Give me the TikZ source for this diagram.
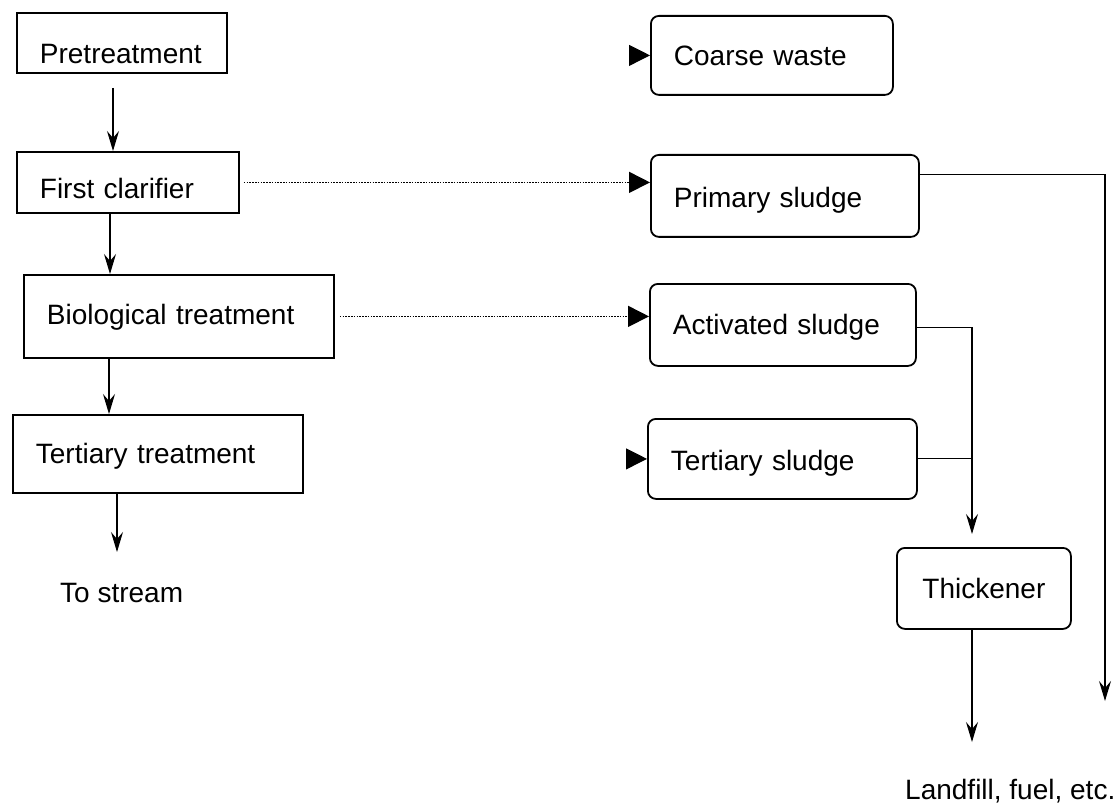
\documentclass[tikz,border=0pt]{standalone}
\usepackage{fontspec}
\setmainfont{Liberation Sans}
\usetikzlibrary{arrows.meta}
\newcommand\bigfont{\fontsize{28}{32}\selectfont}
\begin{document}
\begin{tikzpicture}[x=1pt,y=-1pt,
  sq/.style={draw, line width=1.8pt, inner ysep=0pt, inner xsep=23pt, align=left, anchor=north west, font=\bigfont},
  rd/.style={sq, rounded corners=8pt},
  arr/.style={-{Stealth[length=20pt,width=12pt,inset=7pt]}, line width=1.1pt},
  tri/.style={-{Triangle[length=21pt,width=21pt]}, line width=1.1pt},
  dotl/.style={tri, line width=1.6pt, dash pattern=on 1.6pt off 1.2pt},
  lbl/.style={inner sep=0pt, anchor=base west, font=\bigfont}]
\useasboundingbox (0,0) rectangle (1119,805);
% left column
\node[sq, text width=164pt, text height=51pt, text depth=9pt] (pre) at (16,12) {Pretreatment};
\node[sq, text width=176pt, text height=47pt, text depth=14pt] (fc) at (16,151) {First clarifier};
\node[sq, text width=264pt, text height=50pt, text depth=33pt] (bio) at (23,274) {Biological treatment};
\node[sq, text width=244pt, text height=49pt, text depth=29pt] (tt) at (12,414) {Tertiary treatment};
\node[lbl] (st) at (60,602) {To stream};
% right column
\node[rd, text width=196pt, text height=50pt, text depth=29pt] (cw) at (650,15) {Coarse waste};
\node[rd, text width=222pt, text height=53pt, text depth=29pt] (ps) at (650,154) {Primary sludge};
\node[rd, text width=220pt, text height=51pt, text depth=31pt] (as) at (649,283) {Activated sludge};
\node[rd, text width=223pt, text height=52pt, text depth=28pt] (ts) at (647,418) {Tertiary sludge};
\node[rd, align=center, inner xsep=22pt, text width=130pt, text height=51pt, text depth=30pt] (thk) at (896,547) {Thickener};
\node[lbl] (lf) at (905,799) {Landfill, fuel, etc.};
% coordinates
\coordinate (p1) at (113,88);
\coordinate (x2) at (110,0);
\coordinate (x3) at (109,0);
\coordinate (x4) at (117,0);
\coordinate (s4) at (117,552);
\coordinate (pe) at (1105,701);
\coordinate (jx) at (972,0);
\coordinate (je) at (972,534);
\coordinate (le) at (972,742);
% left arrows
\draw[arr] (p1) -- (p1 |- fc.north);
\draw[arr] (fc.south -| x2) -- (bio.north -| x2);
\draw[arr] (bio.south -| x3) -- (tt.north -| x3);
\draw[arr] (tt.south -| x4) -- (s4);
% dotted arrows
\draw[dotl] ([xshift=4pt]fc.east) -- (fc.east -| ps.west);
\draw[dotl] ([xshift=5pt]bio.east) -- (bio.east -| as.west);
% lone arrowheads
\draw[tri] ([xshift=-21pt]cw.west) -- (cw.west);
\draw[tri] ([xshift=-21pt]ts.west) -- (ts.west);
% right connectors
\draw[arr] ([yshift=21pt]ps.east) -| (pe);
\draw[arr] ([yshift=-3pt]as.east) -- ([yshift=-3pt]as.east -| jx) -- (je);
\draw[line width=1.1pt] (ts.east) -- (ts.east -| jx);
\draw[arr] (thk.south -| jx) -- (le);
\end{tikzpicture}
\end{document}
